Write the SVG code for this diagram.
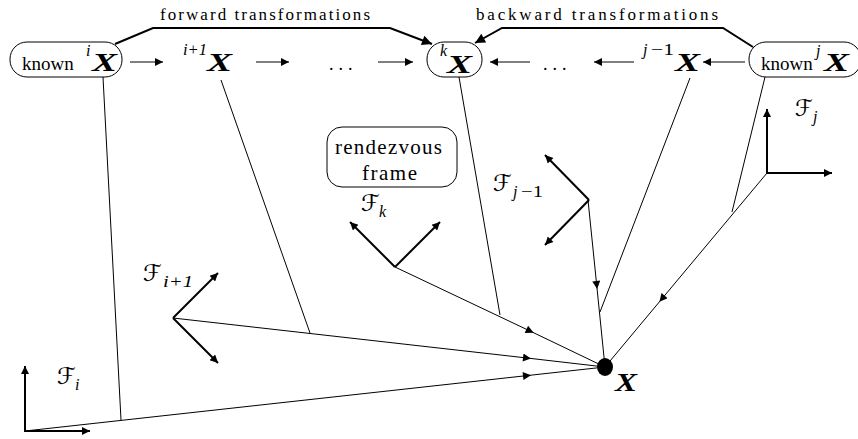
<svg xmlns="http://www.w3.org/2000/svg" width="858" height="439" viewBox="0 0 858 439">
<style>
.box{fill:none;stroke:#000;stroke-width:1}
.thin{fill:none;stroke:#000;stroke-width:1}
.ax{fill:none;stroke:#000;stroke-width:2}
.br{fill:none;stroke:#000;stroke-width:2}
</style>
<defs>
<marker id="ah" viewBox="0 0 10 10" refX="10" refY="5" markerWidth="10" markerHeight="8" markerUnits="userSpaceOnUse" orient="auto"><path d="M0,0 L10,5 L0,10 z" fill="#000"/></marker>
<marker id="ahb" viewBox="0 0 10 10" refX="10" refY="5" markerWidth="13" markerHeight="10" markerUnits="userSpaceOnUse" orient="auto"><path d="M0,0 L10,5 L0,10 z" fill="#000"/></marker>
<marker id="mid" viewBox="0 0 10 10" refX="5" refY="5" markerWidth="10" markerHeight="8" markerUnits="userSpaceOnUse" orient="auto"><path d="M0,0 L10,5 L0,10 z" fill="#000"/></marker>
</defs>

<g id="connectors">
  <line class="thin" x1="130" y1="62" x2="163" y2="62" marker-end="url(#ah)"/>
  <line class="thin" x1="256" y1="62" x2="289" y2="62" marker-end="url(#ah)"/>
  <line class="thin" x1="378" y1="62" x2="413" y2="62" marker-end="url(#ah)"/>
  <line class="thin" x1="530" y1="62" x2="490" y2="62" marker-end="url(#ah)"/>
  <line class="thin" x1="634" y1="62" x2="594" y2="62" marker-end="url(#ah)"/>
  <line class="thin" x1="745" y1="62" x2="703" y2="62" marker-end="url(#ah)"/>
  <polyline class="br" points="115,44 153,28 390,28 432,44" marker-end="url(#ahb)"/>
  <polyline class="br" points="753,47 723,28 502,28 475,43" marker-end="url(#ahb)"/>
  <polyline class="thin" points="25,431 527,375.6 605,367" marker-mid="url(#mid)"/>
  <polyline class="thin" points="173,318 527,358 605,367" marker-mid="url(#mid)"/>
  <polyline class="thin" points="395,267 530,331 605,367" marker-mid="url(#mid)"/>
  <polyline class="thin" points="588,200 596.7,285 605,367" marker-mid="url(#mid)"/>
  <polyline class="thin" points="767,173 662,298.7 605,367" marker-mid="url(#mid)"/>
  <line class="thin" x1="103" y1="77" x2="121" y2="420"/>
  <line class="thin" x1="221" y1="80" x2="310" y2="333"/>
  <line class="thin" x1="459" y1="77" x2="500" y2="315"/>
  <line class="thin" x1="690" y1="78" x2="600" y2="312"/>
  <line class="thin" x1="765" y1="77" x2="732" y2="212"/>
</g>

<g id="node-known-i">
  <rect class="box" x="10" y="42" width="112" height="35" rx="17"/>
  <text x="22" y="70" font-family="Liberation Serif" font-size="19">known</text>
  <text x="86" y="56" font-family="Liberation Serif" font-size="16" font-style="italic">i</text>
  <text x="92" y="71" font-family="Liberation Serif" font-size="25" font-weight="bold" font-style="italic" textLength="25" lengthAdjust="spacingAndGlyphs">X</text>
</g>
<g id="node-i1">
  <text x="183" y="55" font-family="Liberation Serif" font-size="16" font-style="italic" textLength="24" lengthAdjust="spacingAndGlyphs">i+1</text>
  <text x="207" y="71" font-family="Liberation Serif" font-size="25" font-weight="bold" font-style="italic" textLength="25" lengthAdjust="spacingAndGlyphs">X</text>
</g>
<g id="node-dots-left"><text x="329" y="70" font-family="Liberation Serif" font-size="18" letter-spacing="5">...</text></g>
<g id="node-k">
  <rect class="box" x="427" y="42" width="55" height="35" rx="17"/>
  <text x="440" y="56" font-family="Liberation Serif" font-size="16" font-style="italic">k</text>
  <text x="447" y="73" font-family="Liberation Serif" font-size="25" font-weight="bold" font-style="italic" textLength="25" lengthAdjust="spacingAndGlyphs">X</text>
</g>
<g id="node-dots-right"><text x="543" y="70" font-family="Liberation Serif" font-size="18" letter-spacing="5">...</text></g>
<g id="node-j1">
  <text x="643" y="55" font-family="Liberation Serif" font-size="16" font-style="italic">j</text>
  <text x="651" y="55" font-family="Liberation Serif" font-size="16" textLength="23" lengthAdjust="spacingAndGlyphs">−1</text>
  <text x="675" y="71" font-family="Liberation Serif" font-size="25" font-weight="bold" font-style="italic" textLength="25" lengthAdjust="spacingAndGlyphs">X</text>
</g>
<g id="node-known-j">
  <rect class="box" x="749" y="42" width="112" height="35" rx="17"/>
  <text x="761" y="70" font-family="Liberation Serif" font-size="19">known</text>
  <text x="816" y="56" font-family="Liberation Serif" font-size="16" font-style="italic">j</text>
  <text x="824" y="71" font-family="Liberation Serif" font-size="25" font-weight="bold" font-style="italic" textLength="25" lengthAdjust="spacingAndGlyphs">X</text>
</g>
<g id="label-forward"><text x="160" y="20" font-family="Liberation Serif" font-size="17" textLength="210">forward transformations</text></g>
<g id="label-backward"><text x="476" y="20" font-family="Liberation Serif" font-size="17" textLength="242">backward transformations</text></g>

<g id="node-rendezvous">
  <rect class="box" x="327" y="127" width="130" height="60" rx="15"/>
  <text x="335" y="154" font-family="Liberation Serif" font-size="21" textLength="107">rendezvous</text>
  <text x="362" y="180" font-family="Liberation Serif" font-size="21" textLength="55">frame</text>
</g>

<g id="frame-i">
  <line class="ax" x1="25" y1="432" x2="25" y2="366" marker-end="url(#ah)"/>
  <line class="ax" x1="24" y1="431" x2="90" y2="431" marker-end="url(#ah)"/>
  <text x="57" y="384" font-family="DejaVu Sans" font-size="23" textLength="19" lengthAdjust="spacingAndGlyphs">ℱ</text>
  <text x="75" y="390" font-family="Liberation Serif" font-style="italic" font-size="16">i</text>
</g>
<g id="frame-i1">
  <line class="ax" x1="173" y1="318" x2="218" y2="273" marker-end="url(#ah)"/>
  <line class="ax" x1="173" y1="318" x2="218" y2="363" marker-end="url(#ah)"/>
  <text x="143" y="281" font-family="DejaVu Sans" font-size="23" textLength="19" lengthAdjust="spacingAndGlyphs">ℱ</text>
  <text x="163" y="287" font-family="Liberation Serif" font-style="italic" font-size="16" textLength="30" lengthAdjust="spacingAndGlyphs">i+1</text>
</g>
<g id="frame-k">
  <line class="ax" x1="395" y1="267" x2="350" y2="222" marker-end="url(#ah)"/>
  <line class="ax" x1="395" y1="267" x2="440" y2="222" marker-end="url(#ah)"/>
  <text x="361" y="211" font-family="DejaVu Sans" font-size="23" textLength="19" lengthAdjust="spacingAndGlyphs">ℱ</text>
  <text x="379" y="217" font-family="Liberation Serif" font-style="italic" font-size="16">k</text>
</g>
<g id="frame-j1">
  <line class="ax" x1="589" y1="200" x2="545" y2="155" marker-end="url(#ah)"/>
  <line class="ax" x1="589" y1="200" x2="545" y2="245" marker-end="url(#ah)"/>
  <text x="493" y="191" font-family="DejaVu Sans" font-size="23" textLength="19" lengthAdjust="spacingAndGlyphs">ℱ</text>
  <text x="513" y="197" font-family="Liberation Serif" font-style="italic" font-size="16">j</text>
  <text x="521" y="197" font-family="Liberation Serif" font-size="16" textLength="22" lengthAdjust="spacingAndGlyphs">−1</text>
</g>
<g id="frame-j">
  <line class="ax" x1="767" y1="174" x2="767" y2="109" marker-end="url(#ah)"/>
  <line class="ax" x1="766" y1="173" x2="832" y2="173" marker-end="url(#ah)"/>
  <text x="795" y="116" font-family="DejaVu Sans" font-size="23" textLength="18" lengthAdjust="spacingAndGlyphs">ℱ</text>
  <text x="813" y="122" font-family="Liberation Serif" font-style="italic" font-size="16">j</text>
</g>
<g id="node-X">
  <ellipse cx="605" cy="367" rx="8" ry="9" fill="#000"/>
  <text x="615" y="391" font-family="Liberation Serif" font-size="25" font-weight="bold" font-style="italic" textLength="22" lengthAdjust="spacingAndGlyphs">X</text>
</g>
</svg>
